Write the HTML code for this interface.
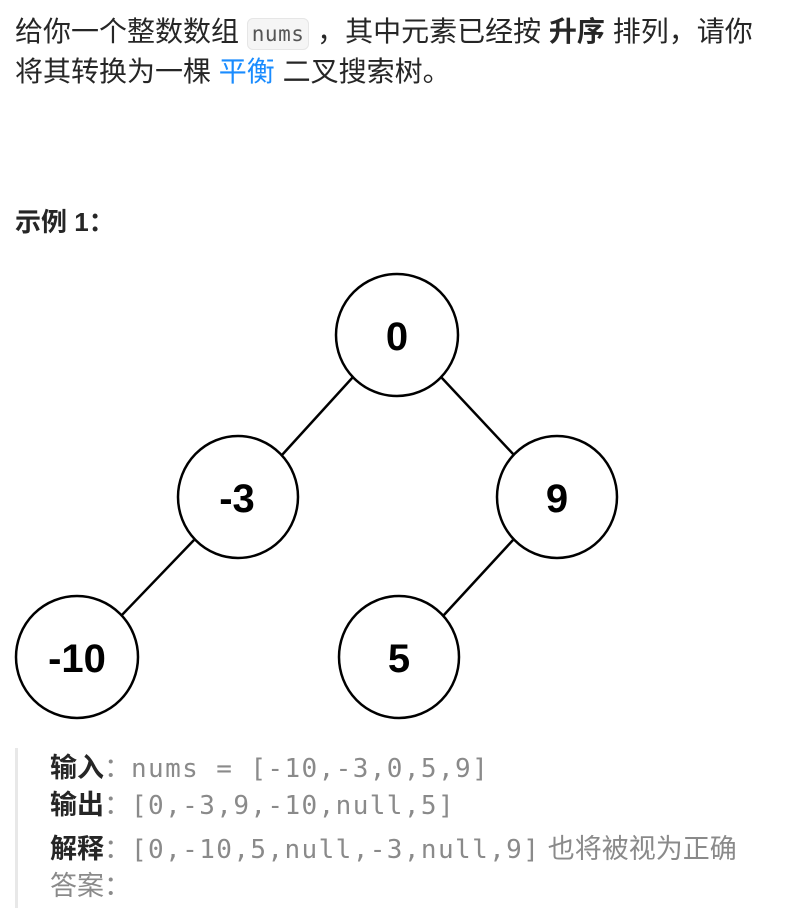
<!DOCTYPE html>
<html><head><meta charset="utf-8"><style>
body{margin:0;width:788px;height:908px;background:#fff;position:relative;overflow:hidden;font-family:"Liberation Sans","Noto Sans CJK SC",sans-serif;color:#262626}
.l{position:absolute;left:15px;font-size:28px;line-height:40px;white-space:nowrap}
code{font-family:"DejaVu Sans Mono","Liberation Mono",monospace;font-size:21px;color:#555;background:#f5f5f5;border:1px solid #e6e6e6;border-radius:6px;padding:3px 4px;letter-spacing:0.5px}
b{font-weight:bold}
.blue{color:#1a8cff}
.pre{position:absolute;left:15px;top:748px;height:160px;border-left:3px solid #e8e8e8}
.p{position:absolute;left:50px;font-size:27px;line-height:37px;white-space:nowrap;color:#8a8a8a}
.p b{color:#262626}
.m{font-family:"DejaVu Sans Mono","Liberation Mono",monospace;font-size:26px;letter-spacing:1.4px}
</style></head><body>
<div class="l" style="top:12px">给你一个整数数组 <code>nums</code> ，其中元素已经按 <b>升序</b> 排列，请你</div>
<div class="l" style="top:52px">将其转换为一棵 <span class="blue">平衡</span> 二叉搜索树。</div>
<div class="l" style="top:202px;font-weight:bold;font-size:26px">示例 1：</div>
<svg style="position:absolute;left:0;top:0" width="788" height="908">
<g stroke="#000" stroke-width="2.5" fill="none">
<line x1="353" y1="377" x2="282" y2="455"/>
<line x1="441" y1="377" x2="514" y2="455"/>
<line x1="194" y1="540" x2="121" y2="616"/>
<line x1="513" y1="540" x2="443" y2="616"/>
</g>
<g stroke="#000" stroke-width="2.5" fill="#fff">
<ellipse cx="397" cy="335" rx="61" ry="61"/>
<ellipse cx="238" cy="497" rx="60" ry="61"/>
<ellipse cx="557" cy="497" rx="60" ry="61"/>
<ellipse cx="77" cy="657" rx="61" ry="61"/>
<ellipse cx="399" cy="657" rx="60" ry="61"/>
</g>
<g font-family="Liberation Sans,Arial,sans-serif" font-weight="bold" font-size="40" text-anchor="middle">
<text x="397" y="350">0</text>
<text x="237" y="512">-3</text>
<text x="557" y="512">9</text>
<text x="77" y="672">-10</text>
<text x="399" y="672">5</text>
</g>
</svg>
<div class="pre"></div>
<div class="p" style="top:750px"><b>输入</b>：<span class="m">nums = [-10,-3,0,5,9]</span></div>
<div class="p" style="top:787px"><b>输出</b>：<span class="m">[0,-3,9,-10,null,5]</span></div>
<div class="p" style="top:831px"><b>解释</b>：<span class="m">[0,-10,5,null,-3,null,9]</span> 也将被视为正确</div>
<div class="p" style="top:868px">答案：</div>
</body></html>
